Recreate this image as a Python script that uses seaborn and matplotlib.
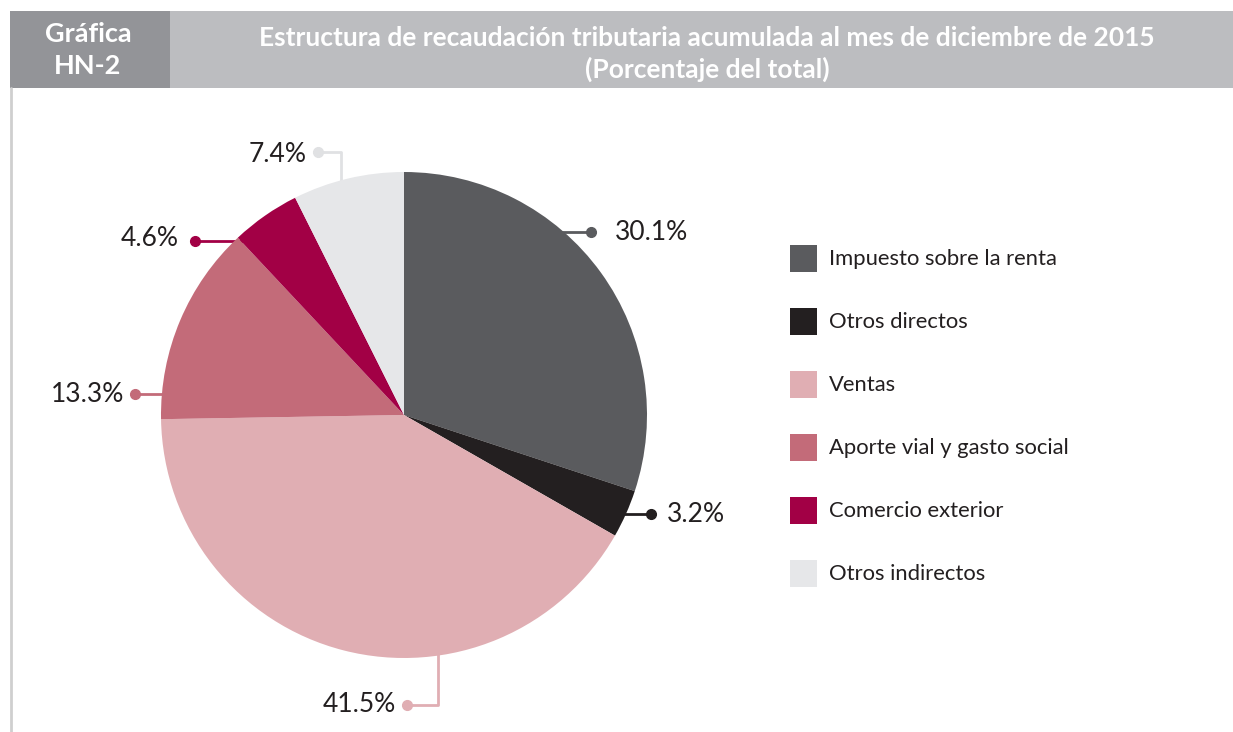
import matplotlib
matplotlib.use("Agg")
import matplotlib.pyplot as plt
import seaborn as sns
from matplotlib.patches import Rectangle

categories = ["Impuesto sobre la renta", "Otros directos", "Ventas",
              "Aporte vial y gasto social", "Comercio exterior", "Otros indirectos"]
shares = [30.1, 3.2, 41.5, 13.3, 4.6, 7.4]
slice_colors = ["#5a5b5e", "#231f20", "#e0aeb3", "#c36b79", "#a20045", "#e6e7e9"]
dot_colors = ["#5a5b5e", "#231f20", "#e0aeb3", "#c36b79", "#a20045", "#e0e1e3"]

title = "Estructura de recaudación tributaria acumulada al mes de diciembre de 2015\n(Porcentaje del total)"
tag = "Gráfica\nHN-2"

sns.set_theme(style="white")
plt.rcParams['font.family'] = ['Lato', 'DejaVu Sans']

W, H = 1233, 732
fig = plt.figure(figsize=(W / 100, H / 100), dpi=100)
ax = fig.add_axes([0, 0, 1, 1])


def fy(y):
    # image row -> axis y
    return H - y


# pie
cx, cy, r = 404, 415, 243
pal = sns.color_palette(slice_colors)
ax.pie(shares, colors=pal, startangle=90, counterclock=False,
       center=(cx, fy(cy)), radius=r, frame=True,
       wedgeprops=dict(linewidth=0, zorder=3))
ax.set_xlim(0, W)
ax.set_ylim(0, H)
ax.set_aspect("auto")
ax.set_axis_off()

# header
ax.add_patch(Rectangle((10, fy(88)), 160, 77, color="#939498", lw=0))
ax.add_patch(Rectangle((170, fy(88)), W - 170, 77, color="#bcbdc0", lw=0))
ax.text(88, fy(50), tag, color="white", fontsize=19.5, fontweight="bold",
        ha="center", va="center", linespacing=1.35)
ax.text(707, fy(54), title, color="white", fontsize=19, fontweight="bold",
        ha="center", va="center", linespacing=1.3)
ax.plot([11, 11], [fy(88), 0], color="#cfcfcf", lw=2)

# leader lines: path in image px, text anchor, alignment
leaders = [
    ([(540, 232), (591, 232)], (615, 232), "left"),
    ([(600, 514), (651, 514)], (667, 514), "left"),
    ([(438, 640), (438, 705), (407, 705)], (396, 705), "right"),
    ([(190, 394), (135, 394)], (124, 394), "right"),
    ([(250, 241), (195, 241)], (179, 238), "right"),
    ([(341, 200), (341, 152), (318, 152)], (307, 155), "right"),
]
for val, col, (path, txt, side) in zip(shares, dot_colors, leaders):
    xs = [p[0] for p in path]
    ys = [fy(p[1]) for p in path]
    ax.plot(xs, ys, color=col, lw=2, zorder=1, solid_capstyle="butt")
    ax.plot(xs[-1], ys[-1], "o", color=col, ms=7, zorder=4)
    ax.text(txt[0], fy(txt[1]), f"{val:.1f}%", fontsize=19, color="#231f20",
            ha=side, va="center")

# legend
for i, (name, col) in enumerate(zip(categories, slice_colors)):
    yc = 258 + i * 63
    ax.add_patch(Rectangle((790, fy(yc + 13.5)), 27, 27, color=col, lw=0))
    ax.text(829, fy(yc + 1), name, fontsize=15.8, color="#231f20", ha="left", va="center")

fig.savefig("out.png", dpi=100)
